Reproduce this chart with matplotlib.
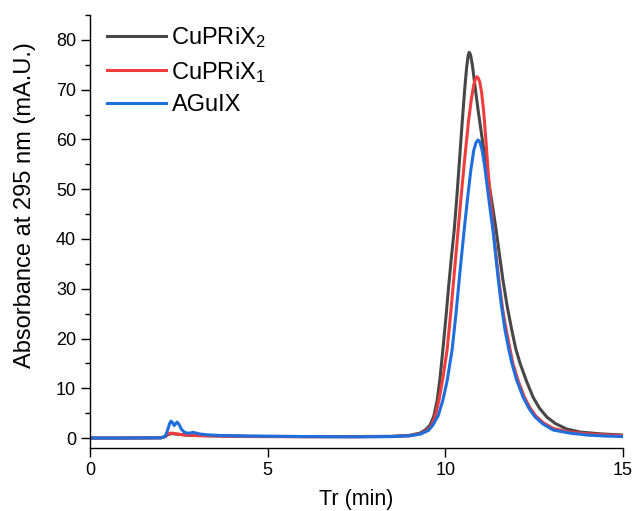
import matplotlib
matplotlib.use("Agg")
import matplotlib.pyplot as plt
from matplotlib.ticker import MultipleLocator

plt.rcParams['font.family'] = ['Liberation Sans', 'DejaVu Sans']
plt.rcParams['mathtext.fontset'] = 'custom'
plt.rcParams['mathtext.rm'] = 'Liberation Sans'
plt.rcParams['mathtext.it'] = 'Liberation Sans'

labels = ["CuPRiX$_2$", "CuPRiX$_1$", "AGuIX"]
colors = ["#474747", "#f03c3c", "#1e6fdc"]

x_cuprix2 = [0, 1.0, 2.0, 2.12, 2.2, 2.3, 2.4, 2.5, 2.7, 3.0, 3.5, 4.5, 6.0, 7.5, 8.5, 9.0,
             9.29, 9.45, 9.57, 9.68, 9.77, 9.85, 9.93, 10.02, 10.1, 10.18, 10.25, 10.33, 10.4,
             10.48, 10.55, 10.6, 10.64, 10.67, 10.71, 10.76, 10.83, 10.92, 11.02, 11.12, 11.22,
             11.33, 11.43, 11.52, 11.62, 11.74, 11.87, 11.98, 12.10, 12.28, 12.47, 12.65, 12.86,
             13.1, 13.42, 13.8, 14.35, 15.0]
y_cuprix2 = [0, 0, 0.05, 0.3, 0.7, 0.9, 0.8, 0.75, 0.6, 0.5, 0.45, 0.35, 0.3, 0.3, 0.35, 0.55,
             1.0, 1.7, 2.6, 4.5, 7.6, 12, 17.7, 24.5, 31, 37, 41.8, 49, 56,
             64, 70.5, 74.5, 76.8, 77.5, 77, 75, 71, 66, 61, 56, 51.5,
             46.5, 41.8, 37, 31.8, 26.5, 21.7, 18, 15.1, 11.5, 8.2, 6.0, 4.2,
             2.9, 1.8, 1.2, 0.85, 0.6]

x_cuprix1 = [0, 1.0, 2.0, 2.1, 2.2, 2.27, 2.35, 2.5, 2.7, 3.0, 3.5, 4.5, 6, 7.5, 8.5, 9.0,
             9.3, 9.5, 9.62, 9.72, 9.82, 9.93, 10.05, 10.15, 10.25, 10.36, 10.45, 10.55, 10.65,
             10.73, 10.8, 10.85, 10.89, 10.93, 10.97, 11.02, 11.08, 11.14, 11.2, 11.27, 11.35,
             11.43, 11.52, 11.62, 11.72, 11.9, 12.05, 12.22, 12.38, 12.55, 12.77, 13.05, 13.5,
             14.0, 14.5, 15.0]
y_cuprix1 = [0, 0, 0.05, 0.3, 0.8, 1.0, 0.95, 0.75, 0.6, 0.5, 0.4, 0.3, 0.25, 0.25, 0.3, 0.45,
             0.9, 1.6, 2.6, 4.5, 7.6, 12, 17.7, 25, 33, 41.8, 49, 56.5, 63.5,
             68, 71, 72.2, 72.6, 72.3, 71.5, 69.5, 65.5, 60, 54, 48, 41.8,
             36.5, 31, 25.5, 21.5, 15, 11.5, 8.3, 6.1, 4.4, 3.0, 1.9, 1.2,
             0.85, 0.65, 0.5]

x_aguix = [0, 1.0, 2.0, 2.11, 2.18, 2.24, 2.28, 2.32, 2.37, 2.41, 2.45, 2.5, 2.57, 2.65, 2.73,
           2.82, 2.9, 2.98, 3.1, 3.3, 3.7, 4.5, 6, 7.5, 8.5, 9.0, 9.3, 9.52, 9.65, 9.8, 9.93,
           10.05, 10.19, 10.3, 10.42, 10.53, 10.63, 10.72, 10.8, 10.86, 10.92, 10.97, 11.03,
           11.1, 11.18, 11.26, 11.34, 11.42, 11.49, 11.58, 11.68, 11.78, 11.87, 12.0, 12.19,
           12.35, 12.53, 12.75, 13.04, 13.5, 14.0, 14.5, 15.0]
y_aguix = [0, 0, 0.05, 0.3, 1.5, 2.9, 3.4, 3.1, 2.5, 2.9, 3.2, 2.8, 1.8, 1.2, 1.0,
           1.0, 1.15, 1.0, 0.8, 0.65, 0.5, 0.4, 0.3, 0.25, 0.3, 0.45, 0.8, 1.5, 2.6, 4.5, 7.6,
           11.5, 17.7, 25, 34, 41.8, 48.5, 54, 57.8, 59.3, 59.9, 59.5, 58,
           55, 50.5, 46, 41.8, 36.5, 31.8, 26.5, 21.7, 18, 15.1, 11.8, 8.2,
           6.0, 4.2, 2.8, 1.6, 1.0, 0.6, 0.4, 0.3]

series = [(x_cuprix2, y_cuprix2), (x_cuprix1, y_cuprix1), (x_aguix, y_aguix)]

fig = plt.figure(figsize=(6.33, 5.11), dpi=100)
ax = fig.add_axes([0.1422, 0.1233, 0.842, 0.8473])

for (xs, ys), lab, col in zip(series, labels, colors):
    ax.plot(xs, ys, color=col, lw=2.2, label=lab, solid_joinstyle='round')

ax.set_xlim(0, 15)
ax.set_ylim(-2, 85)
ax.set_xticks([0, 5, 10, 15])
ax.set_yticks(range(0, 81, 10))
ax.yaxis.set_minor_locator(MultipleLocator(5))
ax.spines['top'].set_visible(False)
ax.spines['right'].set_visible(False)
for s in ['left', 'bottom']:
    ax.spines[s].set_linewidth(1.0)
ax.tick_params(which='major', length=6.5, width=1.0, labelsize=13, direction='out')
ax.tick_params(which='minor', length=3.5, width=1.0, direction='out')
ax.set_xlabel("Tr (min)", fontsize=15.5, labelpad=7)
ax.set_ylabel("Absorbance at 295 nm (mA.U.)", fontsize=17, labelpad=14, y=0.56)

leg = ax.legend(loc='upper left', bbox_to_anchor=(0.0, 1.015), frameon=False,
                fontsize=17, handlelength=2.5, handletextpad=0.25, labelspacing=0.41,
                borderaxespad=0.3)

fig.savefig("out.png", dpi=100)
